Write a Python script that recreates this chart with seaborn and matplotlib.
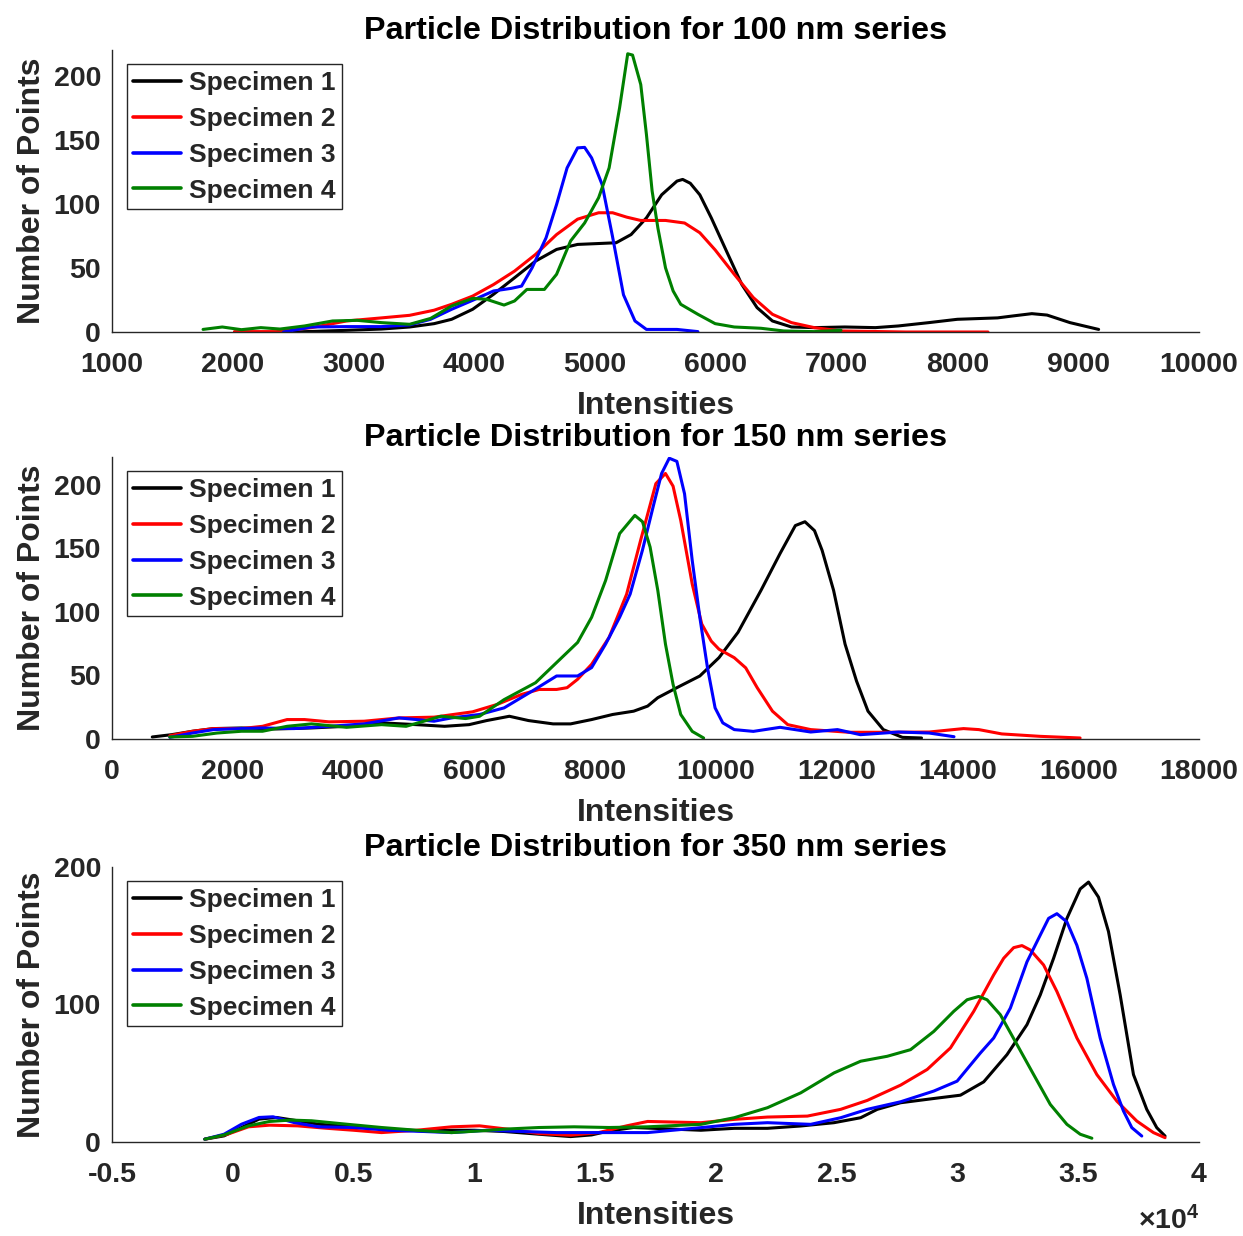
import numpy as np
import pandas as pd
import matplotlib
matplotlib.use("Agg")
import matplotlib.pyplot as plt
from matplotlib.ticker import FuncFormatter
import seaborn as sns

# ---------------- 100 nm series ----------------
s100_x1 = [2507, 2942, 3232, 3464, 3667, 3812, 3986, 4159, 4333, 4507, 4681, 4855, 5029, 5174,
           5298, 5425, 5551, 5678, 5725, 5788, 5867, 5962, 6088, 6215, 6341, 6468, 6626, 6815,
           7068, 7321, 7510, 7763, 7999, 8332, 8458, 8616, 8742, 8932, 9169]
s100_y1 = [0, 1.3, 2.3, 3.9, 6.5, 9.9, 17.7, 29.4, 42.3, 55.3, 64.4, 68.3, 69, 69.6,
           76, 89, 107, 117.7, 119, 116, 107, 89, 63, 37, 19, 8.6, 3.9, 3.4,
           3.9, 3.4, 4.7, 7.3, 9.9, 11, 12.5, 14.3, 13.2, 7.3, 2]
s100_x2 = [2014, 2362, 2652, 2942, 3232, 3464, 3667, 3812, 3986, 4159, 4333, 4507, 4681, 4855,
           5029, 5145, 5261, 5377, 5583, 5741, 5867, 5994, 6152, 6310, 6468, 6626, 6815, 7036,
           7573, 8253]
s100_y2 = [0.3, 0.3, 3.4, 8.6, 11, 13, 17, 21.6, 28, 37, 47.5, 60.5, 76, 88,
           93, 93, 89.6, 87, 87, 85, 77.4, 64, 45, 26.8, 13.8, 7.3, 3.4, 0.8,
           0, 0]
s100_x3 = [2420, 2652, 2942, 3232, 3464, 3638, 3812, 3986, 4159, 4304, 4391, 4478, 4594, 4681,
           4768, 4855, 4913, 4971, 5058, 5143, 5235, 5330, 5425, 5678, 5851]
s100_y3 = [0, 3.9, 4.2, 4.2, 5.5, 9.9, 17.7, 24.7, 32, 34, 35.8, 50, 73.5, 99.5,
           128, 143.6, 144, 135.8, 115, 75, 29, 8.6, 2, 2, 0.3]
s100_x4 = [1754, 1913, 2072, 2232, 2391, 2594, 2826, 3029, 3232, 3464, 3638, 3812, 3986, 4101,
           4246, 4333, 4435, 4580, 4681, 4797, 4913, 5029, 5116, 5203, 5270, 5310, 5378, 5425,
           5472, 5520, 5583, 5646, 5709, 5851, 5994, 6152, 6373, 6562, 6815, 7036]
s100_y4 = [2, 3.9, 1.8, 3.4, 2.3, 4.7, 8.6, 9.1, 7.3, 6, 10.6, 20.3, 26.2, 25.5,
           21, 24.2, 33.2, 33.2, 45, 71, 85, 104.7, 128, 175, 217, 216, 193, 154,
           110, 81, 50, 32, 21.6, 13.8, 6.5, 3.9, 2.9, 0.8, 0.3, 1.3]

# ---------------- 150 nm series ----------------
s150_x1 = [667, 986, 1333, 1681, 2145, 2725, 3304, 3884, 4464, 5043, 5507, 5913, 6203, 6580,
           6899, 7304, 7594, 7942, 8290, 8638, 8870, 9038, 9354, 9734, 10051, 10367, 10747,
           11063, 11316, 11475, 11633, 11759, 11949, 12139, 12329, 12519, 12772, 13089, 13405]
s150_y1 = [1.6, 3.4, 6.1, 8.2, 8.7, 7.9, 8.7, 10, 12.7, 11.3, 10, 11.3, 14.5, 17.9,
           14.5, 11.9, 11.9, 15.3, 19.3, 21.9, 25.9, 32.5, 40.4, 49.6, 64, 84, 117,
           146, 168, 171, 164, 148.5, 117, 74.7, 45.6, 21.9, 7.4, 1.3, 0.8]
s150_x2 = [957, 1333, 1681, 2145, 2493, 2899, 3188, 3594, 4174, 4754, 5333, 5971, 6377, 6783,
           7072, 7362, 7536, 7710, 7942, 8232, 8522, 8754, 9006, 9165, 9291, 9418, 9608,
           9766, 9924, 10051, 10304, 10494, 10684, 10937, 11190, 11570, 12203, 12835, 13532,
           14101, 14354, 14734, 15367, 16031]
s150_y2 = [2.6, 6.1, 8.2, 8.2, 10, 15.3, 15.3, 13.5, 14, 16.6, 17.2, 21.4, 27.2, 35.1,
           39, 39, 40.4, 47, 58.8, 80, 114, 156.5, 201, 209, 199, 172, 122,
           90.5, 77, 70.7, 64, 56, 40.4, 21.9, 11.3, 7.4, 5.3, 5.3, 5.5,
           8.2, 7.4, 4, 2.1, 0.8]
s150_x3 = [957, 1333, 1681, 2145, 2493, 3014, 3594, 4174, 4754, 5333, 5623, 6087, 6493, 6957,
           7362, 7710, 7942, 8174, 8406, 8580, 8783, 8975, 9101, 9228, 9354, 9481, 9608,
           9734, 9861, 9987, 10114, 10304, 10620, 11063, 11570, 12013, 12392, 13025, 13532, 13943]
s150_y3 = [1.3, 4.7, 7.4, 8.2, 8.7, 8.2, 10, 11.9, 16.6, 14, 16.6, 19.3, 24.5, 37.7,
           49.6, 49.6, 56.2, 74.7, 95.8, 114, 148.5, 185.5, 209, 221, 218.5, 193, 140.6,
           95.8, 56, 24.5, 12.7, 7.4, 6, 9.2, 5.5, 7.4, 3.4, 5.5, 4.7, 1.8]
s150_x4 = [957, 1333, 1739, 2145, 2493, 2899, 3304, 3884, 4464, 4870, 5449, 5855, 6087, 6493,
           7014, 7420, 7710, 7942, 8174, 8406, 8658, 8785, 8911, 9038, 9165, 9291, 9418,
           9608, 9797]
s150_y4 = [1.6, 2.1, 4.7, 6.1, 6.1, 10, 11.9, 9.2, 11.3, 10, 17.9, 16.1, 17.9, 31,
           44.3, 62.8, 76, 95.8, 124.8, 161.7, 176, 171, 151, 117, 74.7, 43, 19.3,
           6, 0.8]

# ---------------- 350 nm series ----------------
s350_x1 = [-1159, -362, 362, 1087, 1812, 2681, 3551, 5000, 6449, 7899, 9058, 10000, 11232, 12681,
           13986, 14855, 15580, 16594, 19380, 20758, 22135, 23512, 24890, 25992, 26680, 27645,
           29022, 30124, 31088, 32052, 32879, 33430, 33981, 34532, 35083, 35427, 35840, 36253,
           36736, 37287, 37837, 38251, 38595]
s350_y1 = [2, 4.4, 10.5, 16.6, 17.8, 15.4, 12.9, 11, 9.3, 8, 8.5, 8.5, 7.6, 5.6,
           3.9, 5.1, 8, 10.5, 8.5, 9.9, 9.9, 11.6, 14, 17.6, 23.7, 28.5,
           31.6, 34, 43.7, 63.5, 85.3, 107, 133.6, 162.6, 184, 189, 178, 153,
           107, 49, 23.7, 10.4, 4.3]
s350_x2 = [-1159, -217, 652, 1522, 2681, 3841, 5000, 6159, 7609, 9058, 10217, 11377, 12681, 13986,
           15145, 16304, 17174, 19380, 20758, 22135, 23788, 25165, 26267, 27645, 28747, 29711,
           30675, 31501, 31915, 32328, 32672, 33017, 33567, 34118, 34945, 35771, 36598, 37424,
           38113, 38595]
s350_y2 = [2, 5.6, 11, 12.2, 11.7, 10, 8.5, 6.8, 8.5, 11, 11.7, 9.3, 6.1, 4.9,
           6.8, 11.7, 14.9, 14, 16.4, 18.1, 18.8, 23.7, 30.2, 41.3, 52.7, 68.4,
           95, 121.5, 133.6, 141.3, 142.8, 139.6, 128.7, 109.4, 75.6, 49, 29.7, 15.2,
           6.8, 3.1]
s350_x3 = [-1159, -362, 362, 1087, 1667, 2536, 3551, 5000, 6449, 7899, 9058, 10507, 11957, 13406,
           14855, 16304, 17174, 19380, 20758, 22135, 23925, 25165, 26267, 27645, 29022, 29986,
           30950, 31501, 32190, 32879, 33430, 33774, 34118, 34532, 34945, 35358, 35909, 36460,
           36873, 37218, 37631]
s350_y3 = [2, 5.6, 12.9, 17.8, 18.3, 14.1, 11, 10.5, 8.5, 7.6, 6.8, 8.5, 7.6, 6.8,
           6.8, 6.8, 6.8, 10.4, 12.8, 14, 12.8, 17.6, 23.7, 29.2, 37, 44.2,
           64.7, 75.6, 97.3, 131, 150.5, 162.6, 166, 160, 143, 119, 75.6, 41.8,
           22.5, 10.4, 4.3]
s350_x4 = [-1159, -362, 652, 1522, 2391, 3261, 4710, 6159, 7609, 9058, 10217, 11232, 12681, 14130,
           15580, 17174, 19380, 20758, 22135, 23512, 24890, 25992, 27094, 28058, 29022, 29848,
           30399, 30882, 31226, 31777, 32466, 33154, 33843, 34532, 35083, 35565]
s350_y4 = [2, 5.1, 11.7, 14.9, 15.9, 15.4, 12.9, 10.5, 8.5, 6.8, 8, 9.3, 10.5, 11,
           10.5, 11, 12.8, 17.6, 24.9, 35.7, 50.2, 58.7, 62.3, 67.1, 80.4, 95,
           103.4, 105.8, 103.4, 92.5, 70.8, 49, 27.3, 12.8, 5.6, 2.7]

labels = ["Specimen 1", "Specimen 2", "Specimen 3", "Specimen 4"]
colors = ["#000000", "#ff0000", "#0000ff", "#008000"]

panels = [
    dict(title="Particle Distribution for 100 nm series",
         xs=[s100_x1, s100_x2, s100_x3, s100_x4], ys=[s100_y1, s100_y2, s100_y3, s100_y4],
         xlim=(1000, 10000), xticks=np.arange(1000, 10001, 1000),
         ylim=(0, 220), yticks=[0, 50, 100, 150, 200],
         rect=[0.0901, 0.7314, 0.8745, 0.2282], scale=False),
    dict(title="Particle Distribution for 150 nm series",
         xs=[s150_x1, s150_x2, s150_x3, s150_x4], ys=[s150_y1, s150_y2, s150_y3, s150_y4],
         xlim=(0, 18000), xticks=np.arange(0, 18001, 2000),
         ylim=(0, 222), yticks=[0, 50, 100, 150, 200],
         rect=[0.0901, 0.4021, 0.8745, 0.2282], scale=False),
    dict(title="Particle Distribution for 350 nm series",
         xs=[s350_x1, s350_x2, s350_x3, s350_x4], ys=[s350_y1, s350_y2, s350_y3, s350_y4],
         xlim=(-5000, 40000), xticks=np.arange(-5000, 40001, 5000),
         ylim=(0, 200), yticks=[0, 100, 200],
         rect=[0.0901, 0.0761, 0.8745, 0.2225], scale=True),
]

sns.set_theme(style="white")
plt.rcParams["font.family"] = ["Liberation Sans", "DejaVu Sans"]
plt.rcParams["font.weight"] = "bold"
plt.rcParams["mathtext.fontset"] = "custom"
plt.rcParams["mathtext.rm"] = "Liberation Sans"
plt.rcParams["mathtext.bf"] = "Liberation Sans:bold"

axis_col = "#262626"
fig = plt.figure(figsize=(12.43, 12.36), dpi=100)
fig.patch.set_facecolor("white")

for p in panels:
    ax = fig.add_axes(p["rect"])
    for x, y, lab, col in zip(p["xs"], p["ys"], labels, colors):
        df = pd.DataFrame({"Intensities": x, "Count": y})
        sns.lineplot(data=df, x="Intensities", y="Count", color=col, linewidth=2.2,
                     label=lab, estimator=None, ax=ax)
    ax.set_xlim(*p["xlim"])
    ax.set_ylim(*p["ylim"])
    ax.set_xticks(p["xticks"])
    ax.set_yticks(p["yticks"])
    if p["scale"]:
        ax.xaxis.set_major_formatter(FuncFormatter(lambda v, pos: f"{v / 1e4:g}"))
    else:
        ax.xaxis.set_major_formatter(FuncFormatter(lambda v, pos: f"{v:g}"))
    ax.set_title(p["title"], fontsize=23.3, fontweight="bold", color="black", pad=8)
    ax.set_xlabel("Intensities", fontsize=23, fontweight="bold", color="#262626", labelpad=9.5)
    ax.set_ylabel("Number of Points", fontsize=23, fontweight="bold", color="#262626", labelpad=5)
    for side in ("top", "right"):
        ax.spines[side].set_visible(False)
    for side in ("left", "bottom"):
        ax.spines[side].set_color(axis_col)
        ax.spines[side].set_linewidth(1.0)
    ax.tick_params(axis="both", direction="in", length=7, width=0.8, color="#555555",
                   labelsize=20.5, labelcolor="#262626")
    ax.tick_params(axis="x", pad=14.5)
    ax.tick_params(axis="y", pad=8)
    for t in ax.get_xticklabels() + ax.get_yticklabels():
        t.set_fontweight("bold")
    leg = ax.legend(loc="upper left", fontsize=19, frameon=True, fancybox=False,
                    borderaxespad=0.55, handlelength=1.8, handletextpad=0.3,
                    labelspacing=0.45, borderpad=0.25)
    leg.get_frame().set_edgecolor(axis_col)
    leg.get_frame().set_linewidth(1.0)
    leg.get_frame().set_alpha(1)
    for line in leg.get_lines():
        line.set_linewidth(2.6)
    for t in leg.get_texts():
        t.set_fontweight("bold")
    if p["scale"]:
        ax.text(1.0, -0.317, r"$\times$" + r"$\mathbf{10^4}$", transform=ax.transAxes,
                ha="right", va="baseline", fontsize=20.5, color="#262626")

fig.savefig("out.png", dpi=100, facecolor="white")
